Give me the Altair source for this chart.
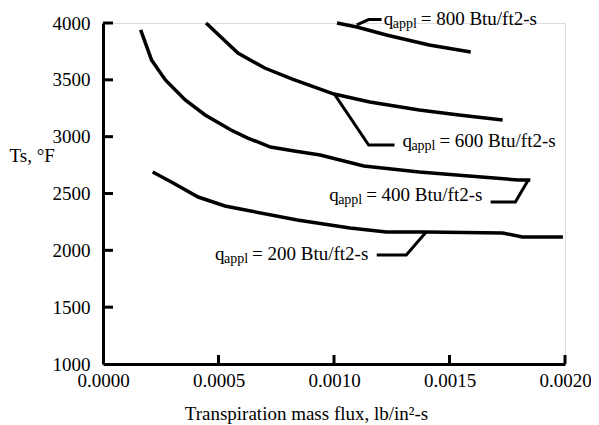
import altair as alt
import pandas as pd

# ---- data ----
c800_x = [0.001013, 0.001099, 0.001227, 0.001412, 0.001592]
c800_y = [4000, 3965, 3895, 3807, 3745]

c600_x = [0.000446, 0.000584, 0.000700, 0.000820, 0.001000, 0.001155, 0.001369, 0.001541, 0.001730]
c600_y = [4000, 3736, 3604, 3507, 3375, 3305, 3235, 3191, 3147]

c400_x = [0.000163, 0.000210, 0.000270, 0.000356, 0.000442, 0.000554, 0.000627, 0.000725,
          0.000828, 0.000940, 0.001129, 0.001369, 0.001584, 0.001798, 0.001850]
c400_y = [3939, 3675, 3499, 3323, 3191, 3059, 2988, 2909, 2874, 2839, 2742, 2689, 2654, 2619, 2619]

c200_x = [0.000215, 0.000296, 0.000412, 0.000528, 0.000639, 0.000841, 0.001069, 0.001227,
          0.001399, 0.001730, 0.001816, 0.001991]
c200_y = [2689, 2601, 2469, 2390, 2346, 2267, 2196, 2161, 2161, 2153, 2117, 2117]

# leader lines (curve point -> elbow -> end at label)
lead_800_x = [0.001099, 0.001150, 0.001206]
lead_800_y = [3983, 4030, 4030]
lead_600_x = [0.001004, 0.001150, 0.001262]
lead_600_y = [3367, 2927, 2927]
lead_400_x = [0.001841, 0.001785, 0.001678]
lead_400_y = [2619, 2425, 2425]
lead_200_x = [0.001399, 0.001313, 0.001185]
lead_200_y = [2161, 1959, 1959]

label_values = ["800", "600", "400", "200"]
label_x = [0.001215, 0.001296, 0.000979, 0.000485]
label_y = [3982, 2909, 2434, 1915]

x_ticks = [0.0000, 0.0005, 0.0010, 0.0015, 0.0020]
y_ticks = [1000, 1500, 2000, 2500, 3000, 3500, 4000]

FONT = "Liberation Serif"
W, H = 462, 341

rows = []
for name, xs, ys in [("800", c800_x, c800_y), ("600", c600_x, c600_y),
                     ("400", c400_x, c400_y), ("200", c200_x, c200_y)]:
    for i, (a, b) in enumerate(zip(xs, ys)):
        rows.append({"series": name, "i": i, "x": a, "y": b})
curves = pd.DataFrame(rows)

lrows = []
for name, xs, ys in [("800", lead_800_x, lead_800_y), ("600", lead_600_x, lead_600_y),
                     ("400", lead_400_x, lead_400_y), ("200", lead_200_x, lead_200_y)]:
    for i, (a, b) in enumerate(zip(xs, ys)):
        lrows.append({"series": name, "i": i, "x": a, "y": b})
leaders = pd.DataFrame(lrows)

labels = pd.DataFrame({
    "x": label_x, "y": label_y,
    "rest": [f"= {v} Btu/ft2-s" for v in label_values],
})

xscale = alt.Scale(domain=[0, 0.002], nice=False, zero=False)
yscale = alt.Scale(domain=[1000, 4000], nice=False, zero=False)

xaxis = alt.Axis(values=x_ticks, format=".4f", grid=False, ticks=False, tickSize=0,
                 domainWidth=3, domainColor="black", labelFont=FONT, labelFontSize=19,
                 labelColor="black", labelPadding=7, labelBaseline="top", labelFlush=False,
                 title="Transpiration mass flux, lb/in²-s", titleFont=FONT, titleFontSize=19,
                 titleFontWeight="normal", titleColor="black", titleX=203, titleY=55,
                 titleAlign="center", titleBaseline="alphabetic")
yaxis = alt.Axis(values=y_ticks, format="d", grid=False, ticks=False, tickSize=0,
                 domainWidth=3, domainColor="black", labelFont=FONT, labelFontSize=19,
                 labelColor="black", labelPadding=13, labelFlush=False,
                 title="Ts, °F", titleFont=FONT, titleFontSize=19, titleFontWeight="normal",
                 titleColor="black", titleAngle=0, titleAlign="left", titleBaseline="middle",
                 titleX=-94, titleY=132)

base_x = alt.X("x:Q", scale=xscale, axis=xaxis)
base_y = alt.Y("y:Q", scale=yscale, axis=yaxis)

curve_layer = alt.Chart(curves).mark_line(color="black", strokeWidth=3.5, clip=False).encode(
    x=base_x, y=base_y, detail="series:N", order="i:Q")

leader_layer = alt.Chart(leaders).mark_line(color="black", strokeWidth=3, clip=False).encode(
    x=alt.X("x:Q", scale=xscale), y=alt.Y("y:Q", scale=yscale), detail="series:N", order="i:Q")

q_layer = alt.Chart(labels).mark_text(align="left", baseline="alphabetic", font=FONT,
                                      fontSize=19, color="black").encode(
    x=alt.X("x:Q", scale=xscale), y=alt.Y("y:Q", scale=yscale), text=alt.value("q"))
sub_layer = alt.Chart(labels).mark_text(align="left", baseline="alphabetic", font=FONT,
                                        fontSize=14, color="black", dx=9, dy=3).encode(
    x=alt.X("x:Q", scale=xscale), y=alt.Y("y:Q", scale=yscale), text=alt.value("appl"))
rest_layer = alt.Chart(labels).mark_text(align="left", baseline="alphabetic", font=FONT,
                                         fontSize=19, color="black", dx=37).encode(
    x=alt.X("x:Q", scale=xscale), y=alt.Y("y:Q", scale=yscale), text="rest:N")

xt = pd.DataFrame({"x": x_ticks[1:]})
yt = pd.DataFrame({"y": y_ticks[1:]})
xtick_layer = alt.Chart(xt).mark_rule(color="black", strokeWidth=3).encode(
    x=alt.X("x:Q", scale=xscale), y=alt.value(H), y2=alt.value(H - 9))
ytick_layer = alt.Chart(yt).mark_rule(color="black", strokeWidth=3).encode(
    y=alt.Y("y:Q", scale=yscale), x=alt.value(0), x2=alt.value(10))

chart = alt.layer(curve_layer, leader_layer, xtick_layer, ytick_layer,
                  q_layer, sub_layer, rest_layer).properties(
    width=W, height=H,
    autosize=alt.AutoSizeParams(type="none"),
    padding={"left": 95, "top": 15, "right": 26, "bottom": 61},
).configure_view(stroke=None).configure(background="white")

chart.save("out.html", embed_options={"renderer": "svg", "actions": False})
